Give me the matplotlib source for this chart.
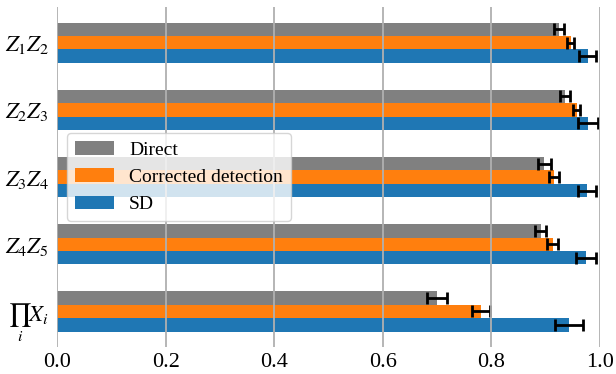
import numpy as np
import matplotlib.pyplot as plt

plt.rcParams['font.family'] = ['Liberation Serif', 'DejaVu Serif']
plt.rcParams['mathtext.fontset'] = 'stix'

labels = [r'$Z_1Z_2$', r'$Z_2Z_3$', r'$Z_3Z_4$', r'$Z_4Z_5$', r'$\prod_i X_i$']

direct = [0.925, 0.935, 0.897, 0.891, 0.700]
direct_err = [0.009, 0.009, 0.012, 0.010, 0.018]
corrected = [0.946, 0.957, 0.915, 0.913, 0.781]
corrected_err = [0.007, 0.007, 0.009, 0.010, 0.016]
sd = [0.977, 0.978, 0.976, 0.974, 0.943]
sd_err = [0.015, 0.018, 0.016, 0.018, 0.026]

fig, ax = plt.subplots(figsize=(6.16, 3.74), dpi=100)
fig.subplots_adjust(left=0.093, right=0.974, bottom=0.072, top=0.981)

y = np.arange(len(labels))
h = 0.2
ekw = dict(elinewidth=2, capthick=2, ecolor='black')
ax.barh(y - h, direct, h, xerr=direct_err, capsize=4.5, color='#808080',
        error_kw=ekw, label='Direct')
ax.barh(y, corrected, h, xerr=corrected_err, capsize=4.5, color='#ff7f0e',
        error_kw=ekw, label='Corrected detection')
ax.barh(y + h, sd, h, xerr=sd_err, capsize=4.5, color='#1f77b4',
        error_kw=ekw, label='SD')

ax.set_yticks(y)
ax.set_yticklabels(labels)
ax.invert_yaxis()
ax.set_xlim(0, 1.0)
ax.set_xticks([0.0, 0.2, 0.4, 0.6, 0.8, 1.0])

ax.grid(axis='x', color='#b0b0b0', linewidth=1.3)
ax.set_axisbelow(False)
for s in ax.spines.values():
    s.set_visible(False)
ax.tick_params(length=0)
ax.tick_params(axis='y', pad=6, labelsize=16.5)
ax.tick_params(axis='x', pad=4, labelsize=16)

ax.legend(loc='center left', fontsize=14)

plt.savefig('out.png')
